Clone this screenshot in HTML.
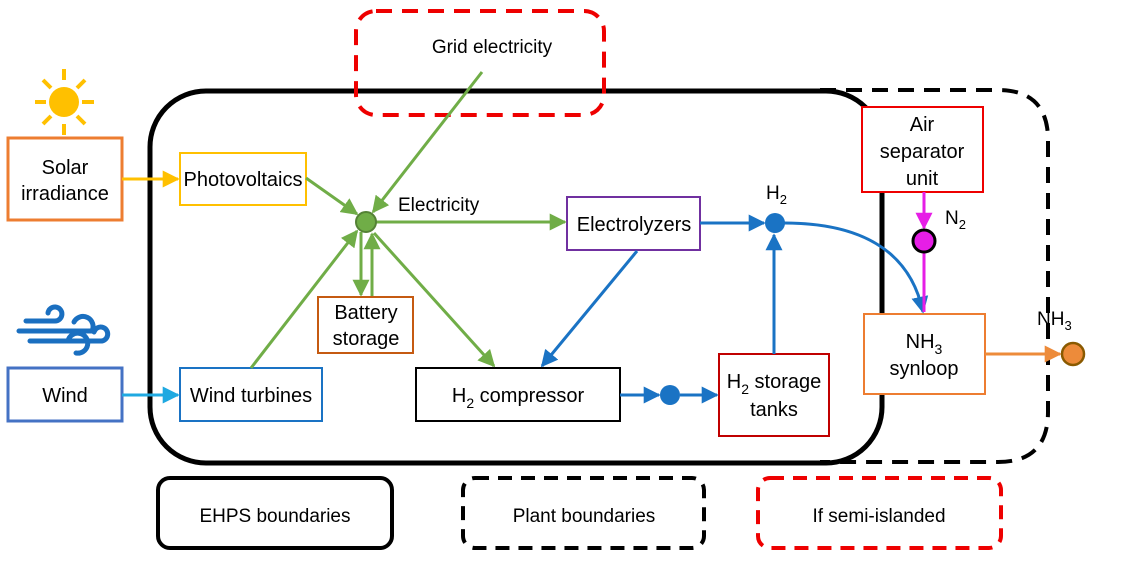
<!DOCTYPE html>
<html><head><style>body{margin:0;background:#fff}svg{display:block}text{font-family:"Liberation Sans",Arial,sans-serif;fill:#000}</style></head><body>
<svg width="1139" height="562" viewBox="0 0 1139 562" xmlns="http://www.w3.org/2000/svg">
<defs>
<marker id="ag" markerWidth="10" markerHeight="10" refX="9" refY="5" orient="auto" markerUnits="userSpaceOnUse"><path d="M0,0 L10,5 L0,10z" fill="#70ad47" transform="scale(1.6) translate(-3.7,-1.9)"/></marker>
<marker id="ab" viewBox="0 0 10 10" markerWidth="17" markerHeight="17" refX="9" refY="5" orient="auto" markerUnits="userSpaceOnUse"><path d="M0,0 L10,5 L0,10z" fill="#1a73c4"/></marker>
<marker id="ag2" viewBox="0 0 10 10" markerWidth="17" markerHeight="17" refX="9" refY="5" orient="auto" markerUnits="userSpaceOnUse"><path d="M0,0 L10,5 L0,10z" fill="#70ad47"/></marker>
<marker id="ay" viewBox="0 0 10 10" markerWidth="17" markerHeight="17" refX="9" refY="5" orient="auto" markerUnits="userSpaceOnUse"><path d="M0,0 L10,5 L0,10z" fill="#ffc000"/></marker>
<marker id="ac" viewBox="0 0 10 10" markerWidth="17" markerHeight="17" refX="9" refY="5" orient="auto" markerUnits="userSpaceOnUse"><path d="M0,0 L10,5 L0,10z" fill="#1fa9e1"/></marker>
<marker id="am" viewBox="0 0 10 10" markerWidth="17" markerHeight="17" refX="9" refY="5" orient="auto" markerUnits="userSpaceOnUse"><path d="M0,0 L10,5 L0,10z" fill="#e61ee6"/></marker>
<marker id="ao" viewBox="0 0 10 10" markerWidth="17" markerHeight="17" refX="9" refY="5" orient="auto" markerUnits="userSpaceOnUse"><path d="M0,0 L10,5 L0,10z" fill="#ed8b3a"/></marker>
</defs>
<!-- boundaries -->
<path d="M820,90 H998 Q1048,90 1048,140 V412 Q1048,462 998,462 H820" fill="none" stroke="#000" stroke-width="4" stroke-dasharray="16,10"/>
<rect x="150" y="91" width="732" height="372" rx="56" fill="none" stroke="#000" stroke-width="5"/>
<rect x="356" y="11" width="248" height="104" rx="20" fill="none" stroke="#e00" stroke-width="4" stroke-dasharray="16,10"/>
<text x="492" y="53" font-size="19" text-anchor="middle">Grid electricity</text>
<!-- sun -->
<circle cx="64" cy="102" r="15" fill="#ffc000"/>
<g stroke="#ffc000" stroke-width="4">
<line x1="64" y1="69" x2="64" y2="80"/><line x1="64" y1="124" x2="64" y2="135"/>
<line x1="35" y1="102" x2="46" y2="102"/><line x1="82" y1="102" x2="94" y2="102"/>
<line x1="43" y1="80" x2="51" y2="88"/><line x1="77" y1="116" x2="85" y2="124"/>
<line x1="85" y1="80" x2="77" y2="88"/><line x1="43" y1="124" x2="51" y2="116"/>
</g>
<!-- wind icon -->
<g fill="none" stroke="#1a6fc0" stroke-width="5" stroke-linecap="round">
<path d="M26,321 H55 A7,7 0 1 0 48,313"/>
<path d="M19,331 H92 A10,10 0 1 0 74,322"/>
<path d="M30,341 H100 A7,7 0 1 0 94,332"/>
<path d="M68,341 A10,10 0 1 1 76,353"/>
</g>
<!-- boxes -->
<rect x="8" y="138" width="114" height="82" fill="#fff" stroke="#ed7d31" stroke-width="3"/>
<text x="65" y="174" font-size="20" text-anchor="middle">Solar</text>
<text x="65" y="200" font-size="20" text-anchor="middle">irradiance</text>
<rect x="180" y="153" width="126" height="52" fill="#fff" stroke="#ffc000" stroke-width="2"/>
<text x="243" y="186" font-size="20" text-anchor="middle">Photovoltaics</text>
<rect x="8" y="368" width="114" height="53" fill="#fff" stroke="#4472c4" stroke-width="3"/>
<text x="65" y="402" font-size="20" text-anchor="middle">Wind</text>
<rect x="180" y="368" width="142" height="53" fill="#fff" stroke="#1a73c4" stroke-width="2"/>
<text x="251" y="402" font-size="20" text-anchor="middle">Wind turbines</text>
<rect x="318" y="297" width="95" height="56" fill="#fff" stroke="#c55a11" stroke-width="2"/>
<text x="366" y="319" font-size="20" text-anchor="middle">Battery</text>
<text x="366" y="345" font-size="20" text-anchor="middle">storage</text>
<rect x="567" y="197" width="133" height="53" fill="#fff" stroke="#7030a0" stroke-width="2"/>
<text x="634" y="231" font-size="20" text-anchor="middle">Electrolyzers</text>
<rect x="416" y="368" width="204" height="53" fill="#fff" stroke="#000" stroke-width="2"/>
<text x="518" y="402" font-size="20" text-anchor="middle">H<tspan font-size="14" dy="6">2</tspan><tspan dy="-6"> compressor</tspan></text>
<rect x="719" y="354" width="110" height="82" fill="#fff" stroke="#c00000" stroke-width="2"/>
<text x="774" y="388" font-size="20" text-anchor="middle">H<tspan font-size="14" dy="6">2</tspan><tspan dy="-6"> storage</tspan></text>
<text x="774" y="416" font-size="20" text-anchor="middle">tanks</text>
<rect x="862" y="107" width="121" height="85" fill="#fff" stroke="#e00" stroke-width="2"/>
<text x="922" y="131" font-size="20" text-anchor="middle">Air</text>
<text x="922" y="158" font-size="20" text-anchor="middle">separator</text>
<text x="922" y="185" font-size="20" text-anchor="middle">unit</text>
<rect x="864" y="314" width="121" height="80" fill="#fff" stroke="#ed7d31" stroke-width="2"/>
<text x="924" y="348" font-size="20" text-anchor="middle">NH<tspan font-size="14" dy="6">3</tspan></text>
<text x="924" y="375" font-size="20" text-anchor="middle">synloop</text>
<!-- green arrows -->
<g stroke="#70ad47" stroke-width="3" fill="none">
<line x1="122" y1="179" x2="178" y2="179" stroke="#ffc000" marker-end="url(#ay)"/>
<line x1="122" y1="395" x2="178" y2="395" stroke="#1fa9e1" marker-end="url(#ac)"/>
<line x1="306" y1="178" x2="357" y2="214" marker-end="url(#ag2)"/>
<line x1="482" y1="72" x2="373" y2="212" marker-end="url(#ag2)"/>
<line x1="251" y1="368" x2="357" y2="231" marker-end="url(#ag2)"/>
<line x1="376" y1="222" x2="565" y2="222" marker-end="url(#ag2)"/>
<line x1="361" y1="232" x2="361" y2="295" marker-end="url(#ag2)"/>
<line x1="372" y1="296" x2="372" y2="234" marker-end="url(#ag2)"/>
<line x1="374" y1="233" x2="494" y2="366" marker-end="url(#ag2)"/>
</g>
<circle cx="366" cy="222" r="10" fill="#70ad47" stroke="#548235" stroke-width="2"/>
<text x="398" y="211" font-size="19">Electricity</text>
<!-- blue -->
<g stroke="#1a73c4" stroke-width="3" fill="none">
<line x1="700" y1="223" x2="764" y2="223" marker-end="url(#ab)"/>
<line x1="637" y1="251" x2="542" y2="366" marker-end="url(#ab)"/>
<line x1="620" y1="395" x2="659" y2="395" marker-end="url(#ab)"/>
<line x1="680" y1="395" x2="717" y2="395" marker-end="url(#ab)"/>
<line x1="774" y1="354" x2="774" y2="235" marker-end="url(#ab)"/>
<path d="M784,223 C860,223 910,250 923,312" marker-end="url(#ab)"/>
</g>
<circle cx="775" cy="223" r="10" fill="#1a73c4"/>
<circle cx="670" cy="395" r="10" fill="#1a73c4"/>
<text x="766" y="199" font-size="19">H<tspan font-size="13" dy="5">2</tspan></text>
<!-- magenta -->
<g stroke="#e61ee6" stroke-width="3" fill="none">
<line x1="924" y1="192" x2="924" y2="228" marker-end="url(#am)"/>
<line x1="924" y1="253" x2="924" y2="312"/>
</g>
<circle cx="924" cy="241" r="11" fill="#e61ee6" stroke="#000" stroke-width="3"/>
<text x="945" y="224" font-size="19">N<tspan font-size="13" dy="5">2</tspan></text>
<!-- NH3 out -->
<line x1="985" y1="354" x2="1060" y2="354" stroke="#ed8b3a" stroke-width="3" marker-end="url(#ao)"/>
<circle cx="1073" cy="354" r="11" fill="#ed8b3a" stroke="#8a5a00" stroke-width="2.5"/>
<text x="1037" y="325" font-size="19">NH<tspan font-size="13" dy="5">3</tspan></text>
<!-- legend -->
<rect x="158" y="478" width="234" height="70" rx="12" fill="none" stroke="#000" stroke-width="4"/>
<text x="275" y="522" font-size="19" text-anchor="middle">EHPS boundaries</text>
<rect x="463" y="478" width="241" height="70" rx="12" fill="none" stroke="#000" stroke-width="4" stroke-dasharray="14,9"/>
<text x="584" y="522" font-size="19" text-anchor="middle">Plant boundaries</text>
<rect x="758" y="478" width="243" height="70" rx="12" fill="none" stroke="#e00" stroke-width="4" stroke-dasharray="14,9"/>
<text x="879" y="522" font-size="19" text-anchor="middle">If semi-islanded</text>
</svg>
</body></html>
